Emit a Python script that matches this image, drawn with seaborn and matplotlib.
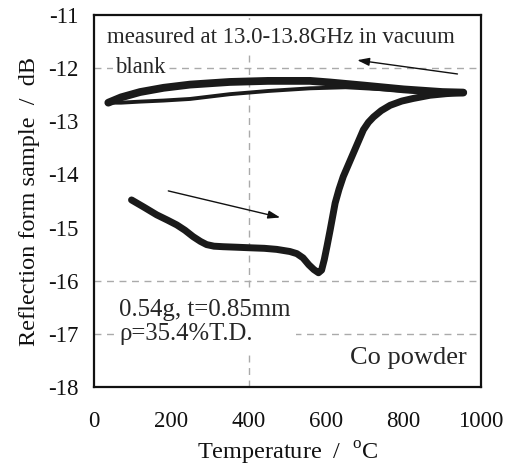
import matplotlib
matplotlib.use("Agg")
import matplotlib.pyplot as plt
import seaborn as sns
import pandas as pd

# ---- data ----
heat_T = [97, 130, 162, 190, 214, 235, 256, 275, 291, 310, 334, 370, 403, 440, 472,
          506, 524, 540, 555, 568, 580, 588, 595, 602, 610, 623, 633, 644, 657, 670,
          683, 696, 709, 722, 742, 765, 795, 825, 868, 910, 954]
heat_v = [-14.48, -14.62, -14.76, -14.86, -14.95, -15.05, -15.17, -15.26, -15.32,
          -15.35, -15.36, -15.37, -15.38, -15.39, -15.41, -15.45, -15.49, -15.57,
          -15.70, -15.79, -15.85, -15.80, -15.60, -15.35, -15.05, -14.54, -14.28,
          -14.04, -13.82, -13.60, -13.38, -13.16, -13.02, -12.92, -12.80, -12.70,
          -12.62, -12.57, -12.51, -12.48, -12.46]

cool_T = [954, 900, 800, 700, 610, 558, 450, 351, 248, 180, 119, 70, 37]
cool_v = [-12.46, -12.45, -12.40, -12.33, -12.27, -12.24, -12.24, -12.26, -12.31,
          -12.37, -12.45, -12.55, -12.65]

loop_T = [37, 70, 119, 180, 248, 351, 450, 558, 650, 750, 850, 954]
loop_v = [-12.65, -12.65, -12.63, -12.61, -12.58, -12.49, -12.43, -12.38, -12.36,
          -12.40, -12.45, -12.47]

x_ticks = [0, 200, 400, 600, 800, 1000]
y_ticks = [-18, -17, -16, -15, -14, -13, -12, -11]
grid_y = [-12, -16, -17]
grid_x = [400]

sns.set_theme(style="white")
plt.rcParams['font.family'] = ['Liberation Serif', 'DejaVu Serif']
plt.rcParams['mathtext.fontset'] = 'custom'
plt.rcParams['mathtext.rm'] = 'Liberation Serif'
plt.rcParams['axes.unicode_minus'] = False

fig = plt.figure(figsize=(5.08, 4.68), dpi=100)
ax = fig.add_axes([0.185, 0.173, 0.762, 0.795])

df_heat = pd.DataFrame({"T": heat_T, "v": heat_v})
df_cool = pd.DataFrame({"T": cool_T, "v": cool_v})
df_loop = pd.DataFrame({"T": loop_T, "v": loop_v})

for yv in grid_y:
    ax.axhline(yv, color="#aaaaaa", lw=1.0, dashes=(5, 4), zorder=1)
for xv in grid_x:
    ax.axvline(xv, color="#aaaaaa", lw=1.0, dashes=(5, 4), zorder=1)

line_kw = dict(sort=False, estimator=None, ax=ax, color="#1a1a1a", zorder=4,
               solid_joinstyle="round", solid_capstyle="round")
sns.lineplot(data=df_heat, x="T", y="v", lw=5.0, **line_kw)
sns.lineplot(data=df_cool, x="T", y="v", lw=5.6, **line_kw)
sns.lineplot(data=df_loop, x="T", y="v", lw=2.8, **line_kw)

ax.set_xlim(0, 1000)
ax.set_ylim(-18, -11)
ax.set_xticks(x_ticks)
ax.set_yticks(y_ticks)
ax.tick_params(axis="both", direction="in", length=4, width=1, color="#999999",
               labelsize=16.5, labelcolor="#111111")
ax.tick_params(axis="x", pad=17)
ax.tick_params(axis="y", pad=11)

for s in ax.spines.values():
    s.set_color("#111111")
    s.set_linewidth(1.6)

ax.set_xlabel(r"Temperature  /  $^{\mathrm{o}}$C", fontsize=17.5, labelpad=6, color="#111111")
ax.set_ylabel("Reflection form sample  /  dB", fontsize=17.5, labelpad=6, color="#111111")

box = dict(facecolor="white", edgecolor="none", pad=2)
ax.text(33, -11.42, "measured at 13.0-13.8GHz in vacuum", fontsize=16.5,
        va="center", ha="left", bbox=dict(facecolor="white", edgecolor="none", pad=5), zorder=3)
ax.text(55, -11.98, "blank", fontsize=16.3, va="center", ha="left", bbox=box, zorder=3)
ax.text(65, -16.77, "0.54g, t=0.85mm\nρ=35.4%T.D.", fontsize=17.8, va="center", ha="left",
        linespacing=1.12, bbox=dict(facecolor="white", edgecolor="none", pad=4), zorder=3)
ax.text(962, -17.45, "Co powder", fontsize=19, va="center", ha="right", zorder=3)

arrow = dict(arrowstyle="-|>,head_length=0.6,head_width=0.2", color="#111111", lw=1.0,
             shrinkA=0, shrinkB=0)
ax.annotate("", xy=(680, -11.85), xytext=(939, -12.11), arrowprops=arrow, zorder=5)
ax.annotate("", xy=(481, -14.81), xytext=(192, -14.31), arrowprops=arrow, zorder=5)

fig.savefig("out.png", dpi=100)
